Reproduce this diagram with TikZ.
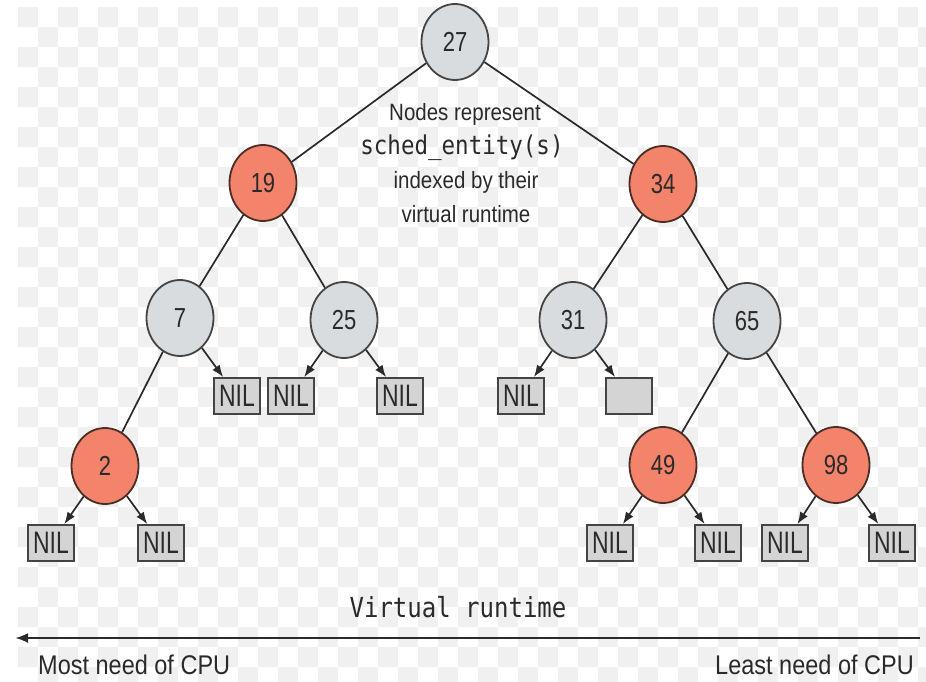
\documentclass[tikz,border=0pt]{standalone}
\usepackage{fontspec}
\usepackage{graphicx}
\setmainfont{Liberation Sans}
\newfontfamily\monof{DejaVu Sans Mono}
\usetikzlibrary{shapes.geometric,arrows.meta}
\definecolor{redn}{HTML}{F3836B}
\definecolor{redb}{HTML}{4A2E26}
\definecolor{grayn}{HTML}{D9DCDF}
\definecolor{grayb}{HTML}{444444}
\definecolor{nilf}{HTML}{D4D4D4}
\definecolor{edgec}{HTML}{2A2A2A}
\definecolor{txt}{HTML}{2A2A2A}
\definecolor{chk}{HTML}{F0F0F0}
\newcommand{\vstr}[2]{\scalebox{1}[#1]{#2}}
\begin{document}
\begin{tikzpicture}[x=1pt,y=-1pt,
  tnode/.style={ellipse, minimum width=67pt, minimum height=76pt, inner sep=0pt, line width=1.8pt, font=\fontsize{22}{22}\selectfont, text=txt},
  rednode/.style={tnode, fill=redn, draw=redb},
  graynode/.style={tnode, fill=grayn, draw=grayb},
  nilbox/.style={rectangle, draw=grayb, fill=nilf, line width=1.8pt, minimum width=46pt, minimum height=36pt, inner sep=0pt, font=\fontsize{23}{23}\selectfont, text=txt},
  treeedge/.style={draw=edgec, line width=1.7pt},
  nilarrow/.style={draw=edgec, line width=1.7pt, -{Latex[length=12pt,width=9pt]}},
  desctext/.style={font=\fontsize{20.5}{20.5}\selectfont, text=txt, inner sep=0pt},
  desccode/.style={font=\monof\fontsize{22.5}{22.5}\selectfont, text=txt, inner sep=0pt},
]
\useasboundingbox (0,0) rectangle (926,682);
\fill[white] (0,0) rectangle (926,682);
% checkerboard background
\begin{scope}
\clip (18,7) rectangle (926,682);
\foreach \i in {0,...,45} {
  \foreach \j in {0,...,34} {
    \pgfmathtruncatemacro\m{mod(\i+\j,2)}
    \ifnum\m=0 \fill[chk] (18+\i*20,7+\j*20) rectangle ++(20,20); \fi
  }
}
\end{scope}

% tree nodes
\node[graynode] (n27) at (455,42) {\vstr{1.25}{27}};
\node[rednode]  (n19) at (263,183) {\vstr{1.25}{19}};
\node[rednode]  (n34) at (663,184) {\vstr{1.25}{34}};
\node[graynode] (n7)  at (180,318) {\vstr{1.25}{7}};
\node[graynode] (n25) at (344,320) {\vstr{1.25}{25}};
\node[graynode] (n31) at (573,320) {\vstr{1.25}{31}};
\node[graynode] (n65) at (747,321) {\vstr{1.25}{65}};
\node[rednode]  (n2)  at (105,466) {\vstr{1.25}{2}};
\node[rednode]  (n49) at (663,465) {\vstr{1.25}{49}};
\node[rednode]  (n98) at (836,465) {\vstr{1.25}{98}};

% NIL boxes
\node[nilbox] (l7r)  at (237,396) {\vstr{1.35}{NIL}};
\node[nilbox] (l25l) at (291,396) {\vstr{1.35}{NIL}};
\node[nilbox] (l25r) at (400,396) {\vstr{1.35}{NIL}};
\node[nilbox] (l31l) at (521,396) {\vstr{1.35}{NIL}};
\node[nilbox] (l31r) at (629,396) {};
\node[nilbox] (l2l)  at (51,543)  {\vstr{1.35}{NIL}};
\node[nilbox] (l2r)  at (161,543) {\vstr{1.35}{NIL}};
\node[nilbox] (l49l) at (610,543) {\vstr{1.35}{NIL}};
\node[nilbox] (l49r) at (718,543) {\vstr{1.35}{NIL}};
\node[nilbox] (l98l) at (785,543) {\vstr{1.35}{NIL}};
\node[nilbox] (l98r) at (892,543) {\vstr{1.35}{NIL}};

% tree edges
\draw[treeedge] (n27) -- (n19);
\draw[treeedge] (n27) -- (n34);
\draw[treeedge] (n19) -- (n7);
\draw[treeedge] (n19) -- (n25);
\draw[treeedge] (n34) -- (n31);
\draw[treeedge] (n34) -- (n65);
\draw[treeedge] (n7) -- (n2);
\draw[treeedge] (n65) -- (n49);
\draw[treeedge] (n65) -- (n98);

% arrows to leaves
\draw[nilarrow] (n7) -- (l7r);
\draw[nilarrow] (n25) -- (l25l);
\draw[nilarrow] (n25) -- (l25r);
\draw[nilarrow] (n31) -- (l31l);
\draw[nilarrow] (n31) -- (l31r);
\draw[nilarrow] (n2) -- (l2l);
\draw[nilarrow] (n2) -- (l2r);
\draw[nilarrow] (n49) -- (l49l);
\draw[nilarrow] (n49) -- (l49r);
\draw[nilarrow] (n98) -- (l98l);
\draw[nilarrow] (n98) -- (l98r);

% description
\node[desctext] (d1) at (465,114) {\vstr{1.15}{Nodes represent}};
\node[desccode] (d2) at (462,148) {\vstr{1.15}{sched\_entity(s)}};
\node[desctext] (d3) at (466,182) {\vstr{1.15}{indexed by their}};
\node[desctext] (d4) at (466,214) {\vstr{1.15}{virtual runtime}};

% bottom axis
\node[font=\monof\fontsize{24}{24}\selectfont, text=txt, inner sep=0pt] (vr) at (458,607) {\vstr{1.15}{Virtual runtime}};
\coordinate (axR) at (920,638);
\coordinate (axL) at (15,638);
\draw[draw=edgec, line width=2.6pt, -{Latex[length=13pt,width=10pt]}] (axR) -- (axL);
\node[font=\fontsize{23.5}{23.5}\selectfont, text=txt, inner sep=0pt, anchor=west] (most) at (38,665) {\vstr{1.15}{Most need of CPU}};
\node[font=\fontsize{23.5}{23.5}\selectfont, text=txt, inner sep=0pt, anchor=east] (least) at (914,665) {\vstr{1.15}{Least need of CPU}};
\end{tikzpicture}
\end{document}
